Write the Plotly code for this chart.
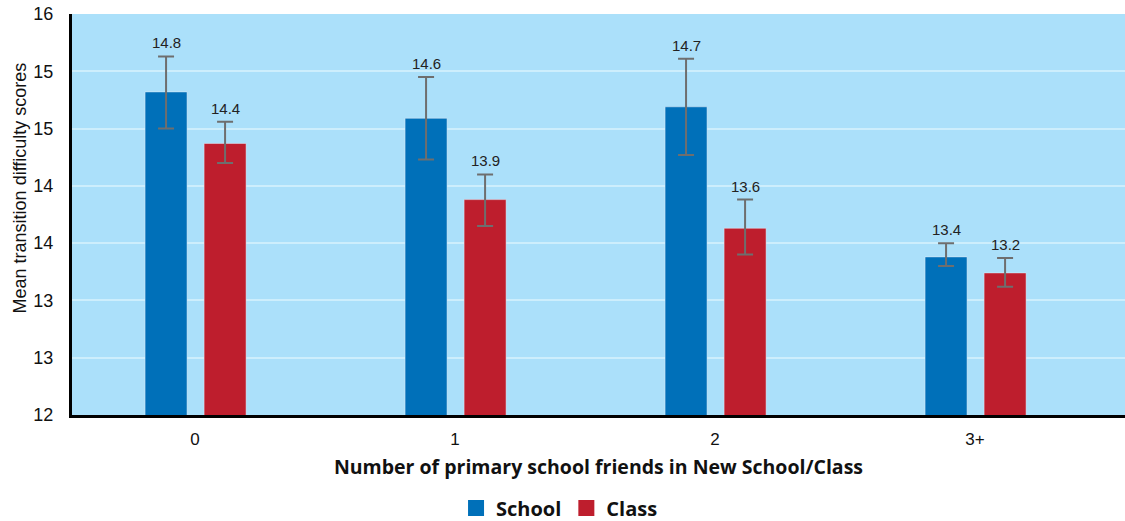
import plotly.graph_objects as go

categories = ["0", "1", "2", "3+"]
school_values = [14.82, 14.59, 14.69, 13.38]
class_values = [14.37, 13.88, 13.63, 13.24]
school_err_plus = [0.31, 0.36, 0.42, 0.12]
school_err_minus = [0.32, 0.36, 0.42, 0.08]
class_err_plus = [0.19, 0.22, 0.25, 0.13]
class_err_minus = [0.17, 0.23, 0.23, 0.12]
school_labels = ["14.8", "14.6", "14.7", "13.4"]
class_labels = ["14.4", "13.9", "13.6", "13.2"]
y_tickvals = [12, 12.5, 13, 13.5, 14, 14.5, 15, 15.5]
y_ticktext = ["12", "13", "13", "14", "14", "15", "15", "16"]

BLUE = "#0070B9"
RED = "#BE1E2D"
ERR = "#6E6E6E"
BAR_W = 0.1615
SCHOOL_OFF = -0.192
CLASS_OFF = 0.035
FONT = "Liberation Sans, Arial"

xs = list(range(len(categories)))

fig = go.Figure()
fig.add_trace(go.Bar(
    x=xs, y=school_values, name="School", marker_color=BLUE,
    width=BAR_W, offset=SCHOOL_OFF, showlegend=False,
    error_y=dict(type="data", symmetric=False, array=school_err_plus,
                 arrayminus=school_err_minus, color=ERR, thickness=2, width=8),
))
fig.add_trace(go.Bar(
    x=xs, y=class_values, name="Class", marker_color=RED,
    width=BAR_W, offset=CLASS_OFF, showlegend=False,
    error_y=dict(type="data", symmetric=False, array=class_err_plus,
                 arrayminus=class_err_minus, color=ERR, thickness=2, width=8),
))

# legend entries with larger square swatches
for name, col in [("School", BLUE), ("Class", RED)]:
    fig.add_trace(go.Scatter(
        x=[None], y=[None], mode="markers", name=name,
        marker=dict(symbol="square", size=20, color=col),
    ))

annotations = []
for vals, errs, labels, off in [
    (school_values, school_err_plus, school_labels, SCHOOL_OFF),
    (class_values, class_err_plus, class_labels, CLASS_OFF),
]:
    for x, v, e, t in zip(xs, vals, errs, labels):
        annotations.append(dict(
            x=x + off + BAR_W / 2, y=v + e, xref="x", yref="y",
            text=t, showarrow=False, yanchor="bottom", yshift=3,
            font=dict(family=FONT, size=15, color="#222"),
        ))

annotations.append(dict(
    text="Mean transition difficulty scores", textangle=-90,
    xref="paper", yref="paper", x=-0.049, y=0.566, xanchor="center", yanchor="middle",
    showarrow=False, font=dict(family=FONT, size=18, color="#111"),
))

fig.update_layout(
    width=1125, height=521,
    margin=dict(l=72, r=0, t=14, b=106, autoexpand=False),
    paper_bgcolor="white",
    plot_bgcolor="#ABE0FA",
    font=dict(family=FONT, color="#111"),
    showlegend=True,
    annotations=annotations,
    legend=dict(orientation="h", x=0.463, xanchor="center",
                xref="paper", yref="container", y=0.025, yanchor="middle",
                font=dict(family="Open Sans", size=20, color="#111", weight="bold"),
                itemwidth=30, traceorder="normal", tracegroupgap=0),
    xaxis=dict(
        tickmode="array", tickvals=xs, ticktext=categories,
        range=[-0.473, 3.577], showgrid=False, zeroline=False,
        showline=True, linecolor="black", linewidth=3,
        ticks="", tickfont=dict(size=17), automargin=False, ticklabelstandoff=7,
        title=dict(text="Number of primary school friends in New School/Class",
                   font=dict(family="Open Sans", size=19.5, weight="bold"), standoff=12),
    ),
    yaxis=dict(
        range=[12, 15.5], tickmode="array", tickvals=y_tickvals, ticktext=y_ticktext,
        showgrid=True, gridcolor="#CDEEFC", gridwidth=2, zeroline=False,
        showline=True, linecolor="black", linewidth=3,
        ticks="", tickfont=dict(size=18), ticklabelstandoff=12, automargin=False,
    ),
)

fig.write_html("out.html", config={"displayModeBar": False},
               post_script="document.body.style.margin='0';document.body.style.overflow='hidden';")
